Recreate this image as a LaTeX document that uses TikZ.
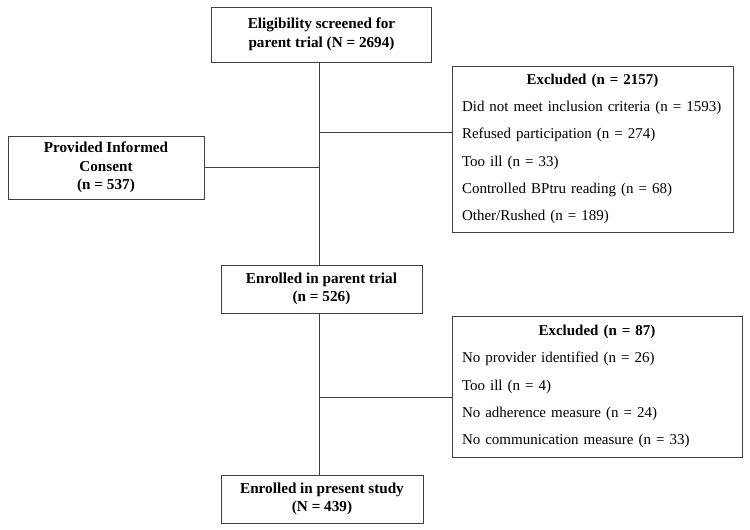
\documentclass[tikz,border=0pt]{standalone}
\usepackage{fontspec}
\setmainfont{Liberation Serif}
\usetikzlibrary{positioning,calc}
\tikzset{
mybox/.style={
  draw=black!75,
  line width=0.8pt,
  align=center,
  inner sep=0pt,
  font=\fontsize{15.2}{18.5}\selectfont\bfseries
  },
myexcl/.style={
  draw=black!75,
  line width=0.8pt,
  inner xsep=10pt,
  inner ysep=0pt,
  font=\fontsize{15}{27.3}\selectfont
  },
myline/.style={draw=black!75, line width=0.8pt}
}

\begin{document}
\begin{tikzpicture}[x=1pt, y=-1pt]
  \useasboundingbox (0,0) rectangle (750,530);

  \node[mybox, minimum width=220, minimum height=55] (elig) at (321.5,34.5)
    {Eligibility screened for\\parent trial (N = 2694)};
  \node[mybox, minimum width=196, minimum height=63] (consent) at (106,167.5)
    {Provided Informed\\Consent\\(n = 537)};
  \node[myexcl, text width=261, minimum height=166] (excl-a) at (592.5,149)
    {\centering\textbf{Excluded (n = 2157)}\par\raggedright
     Did not meet inclusion criteria (n = 1593)\\
     Refused participation (n = 274)\\
     Too ill (n = 33)\\
     Controlled BPtru reading (n = 68)\\
     Other/Rushed (n = 189)};
  \node[mybox, minimum width=201, minimum height=48] (parent) at (321.5,289)
    {Enrolled in parent trial\\(n = 526)};
  \node[myexcl, text width=270, minimum height=141] (excl-b) at (597,386.5)
    {\centering\textbf{Excluded (n = 87)}\par\raggedright
     No provider identified (n = 26)\\
     Too ill (n = 4)\\
     No adherence measure (n = 24)\\
     No communication measure (n = 33)};
  \node[mybox, minimum width=202, minimum height=48] (study) at (322,499)
    {Enrolled in present study\\(N = 439)};

  % trunk and branches
  \coordinate (trunk) at (319,0);
  \coordinate (branch-a) at (319,132);
  \coordinate (branch-b) at (319,397);

  \draw[myline] (elig.south -| trunk) -- (parent.north -| trunk);
  \draw[myline] (parent.south -| trunk) -- (study.north -| trunk);
  \draw[myline] (consent.east) -- (consent.east -| trunk);
  \draw[myline] (branch-a) -- (branch-a -| excl-a.west);
  \draw[myline] (branch-b) -- (branch-b -| excl-b.west);

\end{tikzpicture}
\end{document}
